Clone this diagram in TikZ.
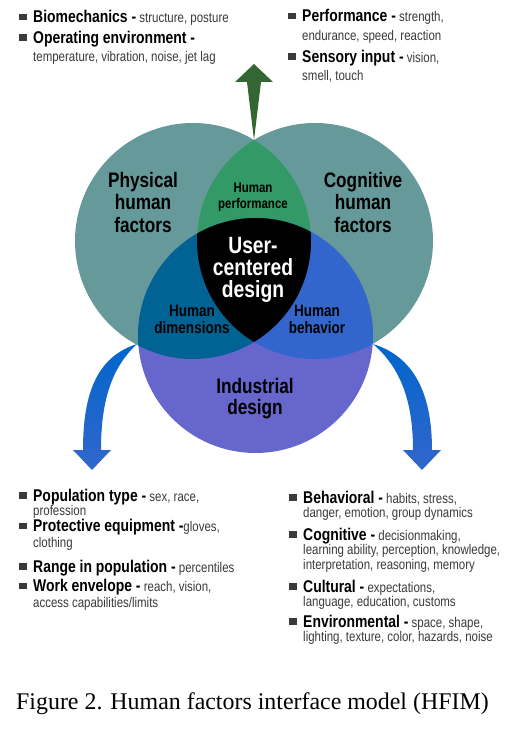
\documentclass[tikz,border=0pt]{standalone}
\usepackage{fontspec}
\setmainfont{Liberation Serif}
\newfontfamily\gothic{Liberation Sans}[FakeStretch=0.82]
\definecolor{tealF}{HTML}{669999}
\definecolor{perfG}{HTML}{339966}
\definecolor{arrG}{HTML}{336633}
\definecolor{dimB}{HTML}{006394}
\definecolor{behB}{HTML}{3366CC}
\definecolor{indP}{HTML}{6666CC}
\definecolor{arrB}{HTML}{3366CC}
\definecolor{arrT}{HTML}{0066CC}
\definecolor{txtG}{HTML}{3A3A3A}
\newcommand{\hd}[1]{\leavevmode\llap{\rule[2.5pt]{8.5pt}{6.5pt}\hspace{6pt}}{\color{black}\fontsize{17}{17}\selectfont\bfseries #1}}
\tikzset{
  venn/.style args={#1/#2}{align=center, anchor=base, inner sep=0pt,
                          font=\gothic\bfseries\fontsize{#1}{#2}\selectfont},
  itm/.style={align=left, anchor=base west, inner sep=0pt, text=txtG,
              font=\gothic\fontsize{14}{#1}\selectfont},
  itm/.default=18.5,
  bluearr/.style={top color=arrT, bottom color=arrB, draw=none},
}
\begin{document}
\begin{tikzpicture}[x=1pt, y=-1pt]
  \useasboundingbox (0,0) rectangle (516,730);
  \fill[white] (0,0) rectangle (516,730);
  \coordinate (cl) at (193,241);
  \coordinate (cr) at (315,241);
  \coordinate (cb) at (255.5,335.5);
  \coordinate (jt) at (254,140);
  \coordinate (jl) at (137,344);
  \coordinate (jr) at (373,344);
  \coordinate (tg) at (254,64);
  \coordinate (tl) at (92,470);
  \coordinate (tr) at (422,470);
  % arrows out of the model
  \fill[arrG] (jt) -- ++(-7,-58) -- ++(-12,0) -- (tg) -- ++(19,18) -- ++(-12,0) -- cycle;
  \shade[bluearr] (jl) .. controls (96,357) and (83,395) .. (83,450) -- (73,450) -- (tl)
     -- (111,450) -- (101,450) .. controls (101,402) and (111,368) .. (jl) -- cycle;
  \shade[bluearr] (jr) .. controls (415,357) and (432,395) .. (432,450) -- (441,450) -- (tr)
     -- (403,450) -- (413,450) .. controls (413,402) and (401,368) .. (jr) -- cycle;
  % three circles
  \fill[tealF] (cl) circle[radius=118pt];
  \fill[tealF] (cr) circle[radius=118pt];
  \fill[indP] (cb) circle[radius=117.5pt];
  \begin{scope}
    \clip (cl) circle[radius=118pt];
    \fill[perfG] (cr) circle[radius=118pt];
    \fill[dimB] (cb) circle[radius=117.5pt];
  \end{scope}
  \begin{scope}
    \clip (cr) circle[radius=118pt];
    \fill[behB] (cb) circle[radius=117.5pt];
    \clip (cl) circle[radius=118pt];
    \fill[black] (cb) circle[radius=117.5pt];
  \end{scope}
  % labels in the circles (base = last line)
  \node[venn=21/22.5] (phys) at (143,232) {Physical\\human\\factors};
  \node[venn=21/22.5] (cogn) at (363,232) {Cognitive\\human\\factors};
  \node[venn=14/16] (perf) at (253,208) {Human\\performance};
  \node[venn=23.5/22, text=white] (ucd) at (253,297) {User-\\centered\\design};
  \node[venn=16.5/17] (dims) at (192,333) {Human\\dimensions};
  \node[venn=16.5/17] (behav) at (317,333) {Human\\behavior};
  \node[venn=21/21] (indus) at (255,414) {Industrial\\design};
  % item lists (base = last line)
  \node[itm] (bio) at (33,23) {\hd{Biomechanics -} structure, posture};
  \node[itm] (openv) at (33,62) {\hd{Operating environment -}\\temperature, vibration, noise, jet lag};
  \node[itm] (perfm) at (302,40.5) {\hd{Performance -} strength,\\endurance, speed, reaction};
  \node[itm] (sens) at (302,81) {\hd{Sensory input -} vision,\\smell, touch};
  \node[itm=14.5] (pop) at (33,515.5) {\hd{Population type -} sex, race,\\profession};
  \node[itm=15.5] (prot) at (33,547) {\hd{Protective equipment -}gloves,\\clothing};
  \node[itm=15.5] (range) at (33,572) {\hd{Range in population -} percentiles};
  \node[itm=15.5] (work) at (33,607) {\hd{Work envelope -} reach, vision,\\access capabilities/limits};
  \node[itm=14.5] (behv) at (303,517.5) {\hd{Behavioral -} habits, stress,\\danger, emotion, group dynamics};
  \node[itm=14.5] (cogv) at (303,569) {\hd{Cognitive -} decisionmaking,\\learning ability, perception, knowledge,\\interpretation, reasoning, memory};
  \node[itm=14.5] (cult) at (303,606.5) {\hd{Cultural -} expectations,\\language, education, customs};
  \node[itm=14.5] (envr) at (303,641.5) {\hd{Environmental -} space, shape,\\lighting, texture, color, hazards, noise};
  \node[anchor=base west, inner sep=0pt, font=\fontsize{23.9}{26}\selectfont] (cap) at (16,709)
     {Figure 2. Human factors interface model (HFIM)};
\end{tikzpicture}
\end{document}
